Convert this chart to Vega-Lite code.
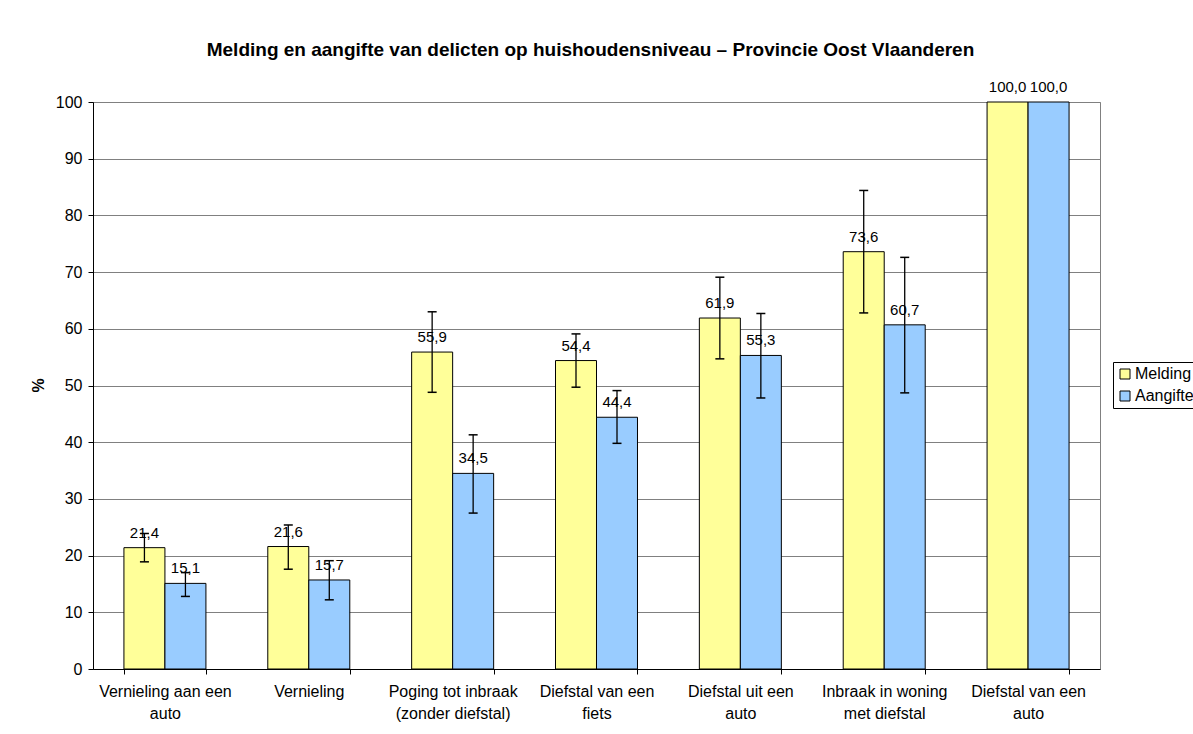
{
  "$schema": "https://vega.github.io/schema/vega-lite/v6.json",
  "width": 1007,
  "height": 567,
  "autosize": {"type": "none"},
  "padding": {"left": 93, "top": 102, "right": 93, "bottom": 65},
  "background": "white",
  "title": {
    "text": "Melding en aangifte van delicten op huishoudensniveau – Provincie Oost Vlaanderen",
    "anchor": "middle",
    "frame": "group",
    "offset": 20,
    "dx": -6,
    "font": "Liberation Sans",
    "fontSize": 19,
    "fontWeight": "bold",
    "color": "black"
  },
  "config": {
    "locale": {
      "number": {"decimal": ",", "thousands": ".", "grouping": [3], "currency": ["€", ""]}
    },
    "font": "Liberation Sans",
    "view": {"stroke": "#808080", "strokeWidth": 1},
    "axis": {
      "labelFont": "Liberation Sans",
      "labelFontSize": 16,
      "labelColor": "black",
      "domainColor": "black",
      "tickColor": "black",
      "tickSize": 5
    },
    "legend": {
      "labelFont": "Liberation Sans",
      "labelFontSize": 16,
      "labelColor": "black"
    }
  },
  "data": {
    "values": [
      {"delict": "Vernieling aan een|auto", "reeks": "Melding", "pct": 21.4, "laag": 18.9, "hoog": 23.9},
      {"delict": "Vernieling aan een|auto", "reeks": "Aangifte", "pct": 15.1, "laag": 12.8, "hoog": 17.0},
      {"delict": "Vernieling", "reeks": "Melding", "pct": 21.6, "laag": 17.6, "hoog": 25.4},
      {"delict": "Vernieling", "reeks": "Aangifte", "pct": 15.7, "laag": 12.2, "hoog": 19.1},
      {"delict": "Poging tot inbraak|(zonder diefstal)", "reeks": "Melding", "pct": 55.9, "laag": 48.8, "hoog": 63.0},
      {"delict": "Poging tot inbraak|(zonder diefstal)", "reeks": "Aangifte", "pct": 34.5, "laag": 27.5, "hoog": 41.3},
      {"delict": "Diefstal van een|fiets", "reeks": "Melding", "pct": 54.4, "laag": 49.7, "hoog": 59.1},
      {"delict": "Diefstal van een|fiets", "reeks": "Aangifte", "pct": 44.4, "laag": 39.8, "hoog": 49.1},
      {"delict": "Diefstal uit een|auto", "reeks": "Melding", "pct": 61.9, "laag": 54.7, "hoog": 69.1},
      {"delict": "Diefstal uit een|auto", "reeks": "Aangifte", "pct": 55.3, "laag": 47.8, "hoog": 62.7},
      {"delict": "Inbraak in woning|met diefstal", "reeks": "Melding", "pct": 73.6, "laag": 62.8, "hoog": 84.4},
      {"delict": "Inbraak in woning|met diefstal", "reeks": "Aangifte", "pct": 60.7, "laag": 48.7, "hoog": 72.6},
      {"delict": "Diefstal van een|auto", "reeks": "Melding", "pct": 100.0, "laag": null, "hoog": null},
      {"delict": "Diefstal van een|auto", "reeks": "Aangifte", "pct": 100.0, "laag": null, "hoog": null}
    ]
  },
  "encoding": {
    "x": {
      "field": "delict",
      "type": "nominal",
      "sort": null,
      "scale": {"paddingInner": 0.43, "paddingOuter": 0.215},
      "axis": {
        "title": null,
        "labelAngle": 0,
        "labelExpr": "split(datum.label, '|')",
        "labelLineHeight": 22,
        "labelPadding": 9,
        "labelBaseline": "top",
        "labelLimit": 0,
        "tickBand": "extent",
        "grid": false
      }
    },
    "xOffset": {
      "field": "reeks",
      "type": "nominal",
      "sort": ["Melding", "Aangifte"],
      "scale": {"paddingInner": 0, "paddingOuter": 0}
    }
  },
  "layer": [
    {
      "mark": {"type": "bar", "stroke": "black", "strokeWidth": 1},
      "encoding": {
        "y": {
          "field": "pct",
          "type": "quantitative",
          "scale": {"domain": [0, 100], "nice": false},
          "axis": {
            "title": "%",
            "titleFont": "Liberation Sans",
            "titleFontSize": 16,
            "titleFontWeight": "bold",
            "titleColor": "black",
            "titleAngle": -90,
            "titleX": -55,
            "titleY": 283,
            "titleAlign": "center",
            "titleBaseline": "middle",
            "values": [0, 10, 20, 30, 40, 50, 60, 70, 80, 90, 100],
            "grid": true,
            "gridColor": "#808080",
            "gridWidth": 1,
            "labelPadding": 6
          }
        },
        "color": {
          "field": "reeks",
          "type": "nominal",
          "sort": ["Melding", "Aangifte"],
          "scale": {"domain": ["Melding", "Aangifte"], "range": ["#FFFF99", "#99CCFF"]},
          "legend": {
            "title": null,
            "orient": "none",
            "legendX": 1020,
            "legendY": 260,
            "symbolType": "square",
            "symbolSize": 100,
            "symbolStrokeColor": "black",
            "symbolStrokeWidth": 1,
            "symbolOpacity": 1,
            "labelOffset": 2,
            "rowPadding": 6,
            "padding": 4,
            "strokeColor": "black",
            "fillColor": "white"
          }
        }
      }
    },
    {
      "transform": [{"filter": "datum.laag != null"}],
      "mark": {"type": "rule", "color": "black", "strokeWidth": 1.3},
      "encoding": {
        "y": {"field": "laag", "type": "quantitative"},
        "y2": {"field": "hoog"}
      }
    },
    {
      "transform": [{"filter": "datum.laag != null"}],
      "mark": {"type": "tick", "color": "black", "size": 9, "thickness": 1.5, "opacity": 1},
      "encoding": {
        "y": {"field": "laag", "type": "quantitative"}
      }
    },
    {
      "transform": [{"filter": "datum.hoog != null"}],
      "mark": {"type": "tick", "color": "black", "size": 9, "thickness": 1.5, "opacity": 1},
      "encoding": {
        "y": {"field": "hoog", "type": "quantitative"}
      }
    },
    {
      "mark": {"type": "text", "baseline": "alphabetic", "dy": -10, "fontSize": 15, "color": "black", "font": "Liberation Sans"},
      "encoding": {
        "y": {"field": "pct", "type": "quantitative"},
        "text": {"field": "pct", "type": "quantitative", "format": ".1f"}
      }
    }
  ]
}
